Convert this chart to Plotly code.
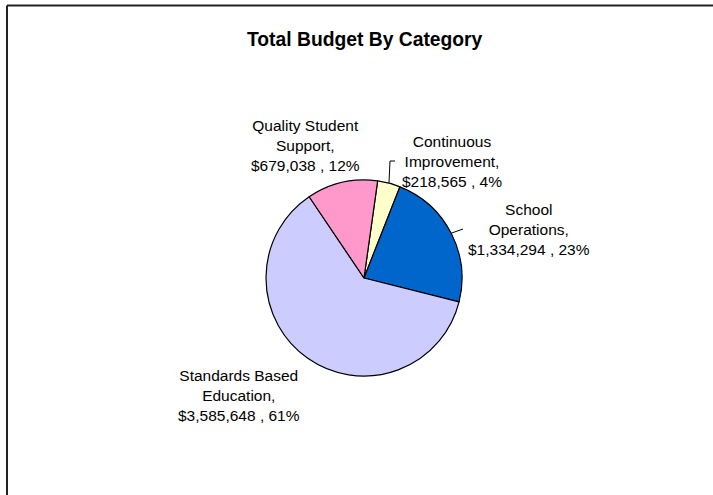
import math
import plotly.graph_objects as go

# ---- data ----
categories = ["Continuous<br>Improvement", "School<br>Operations",
              "Standards Based<br>Education", "Quality Student<br>Support"]
values = [218565, 1334294, 3585648, 679038]
pct_labels = [4, 23, 61, 12]
colors = ["#FFFFCC", "#0066CC", "#CCCCFF", "#FF99CC"]
title_text = "Total Budget By Category"

# ---- layout constants (pixels) ----
W, H = 713, 495
CX, CY, R = 364, 278, 98
ROT = 8
FONT = "Liberation Sans, Arial, sans-serif"
label_pos = [(452, 161), (529, 229), (239, 395.5), (305, 145.5)]
leader_end = [[(390, 161), (395, 161)], [(463, 229)], None, None]


def px(x):
    return x / W


def py(y):
    return 1 - y / H


fig = go.Figure(go.Pie(
    labels=categories,
    values=values,
    sort=False,
    direction="clockwise",
    rotation=ROT,
    textinfo="none",
    hoverinfo="label+value+percent",
    marker=dict(colors=colors, line=dict(color="#000000", width=1.2)),
    domain=dict(x=[px(CX - R), px(CX + R)], y=[py(CY + R), py(CY - R)]),
    showlegend=False,
))

annotations = []
for name, v, p, (lx, ly) in zip(categories, values, pct_labels, label_pos):
    annotations.append(dict(
        x=px(lx), y=py(ly), xref="paper", yref="paper",
        xanchor="center", yanchor="middle", showarrow=False,
        text=f"{name},<br>${v:,} , {p}%",
        font=dict(family=FONT, size=15.5, color="#000000"),
        align="center",
    ))
annotations.append(dict(
    x=px(365), y=py(40), xref="paper", yref="paper",
    xanchor="center", yanchor="middle", showarrow=False,
    text=f"<b>{title_text}</b>",
    font=dict(family=FONT, size=19.3, color="#000000"),
))

# leader lines computed from slice mid-angles
shapes = []
total = sum(values)
cum = 0
for v, ends in zip(values, leader_end):
    mid = math.radians(ROT + 360 * (cum + v / 2) / total)
    cum += v
    if not ends:
        continue
    pts = [(CX + R * math.sin(mid), CY - R * math.cos(mid))] + ends
    path = "M " + " L ".join(f"{px(x)},{py(y)}" for x, y in pts)
    shapes.append(dict(type="path", xref="paper", yref="paper", path=path,
                       line=dict(color="#000000", width=1)))

# chart frame (top and left edges visible)
shapes.append(dict(type="line", xref="paper", yref="paper",
                   x0=px(7), y0=py(5.5), x1=1.0, y1=py(5.5),
                   line=dict(color="#222222", width=2)))
shapes.append(dict(type="line", xref="paper", yref="paper",
                   x0=px(7), y0=py(5.5), x1=px(7), y1=0.0,
                   line=dict(color="#222222", width=2)))

fig.update_layout(
    width=W, height=H,
    margin=dict(l=0, r=0, t=0, b=0),
    paper_bgcolor="#FFFFFF",
    plot_bgcolor="#FFFFFF",
    annotations=annotations,
    shapes=shapes,
)

fig.write_html(
    "out.html",
    config={"displayModeBar": False},
    post_script="document.body.style.margin='0';document.body.style.overflow='hidden';",
)
